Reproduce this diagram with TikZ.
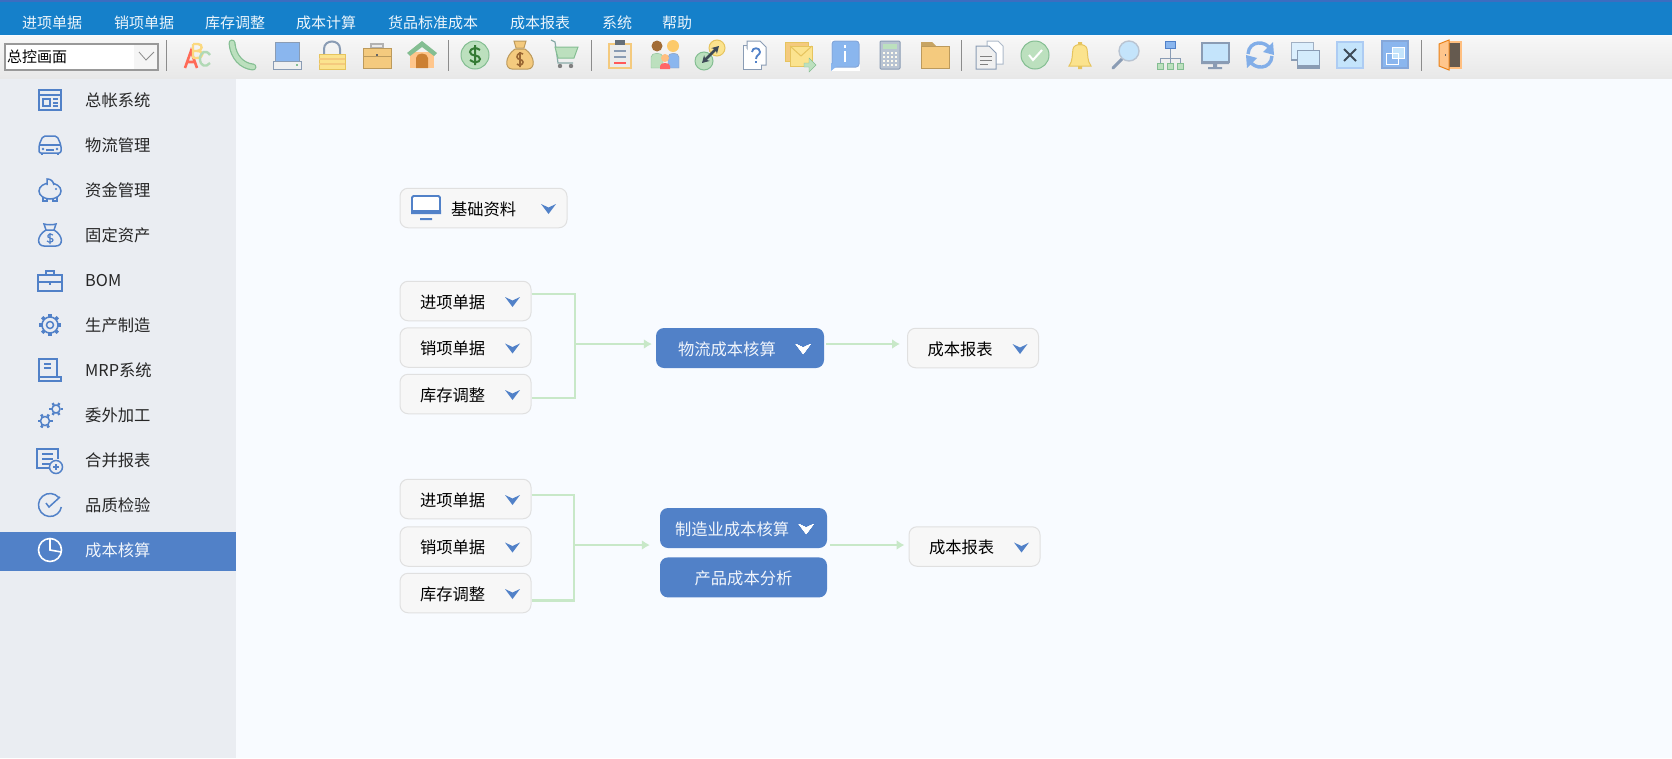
\documentclass[tikz,border=0pt]{standalone}
\usepackage{fontspec}
\setmainfont{Noto Sans CJK SC}
\usepackage{tikz}
\usetikzlibrary{arrows.meta,positioning,calc}
\definecolor{appbg}{HTML}{F8FBFF}
\definecolor{sidebg}{HTML}{EAEDF2}
\definecolor{appblue}{HTML}{5181C8}
\definecolor{menublue}{HTML}{1580CA}
\definecolor{topblue}{HTML}{3C6DC0}
\definecolor{linkgreen}{HTML}{C8E8C8}
\definecolor{boxfill}{HTML}{F7F7F7}
\definecolor{boxline}{HTML}{E0E0E0}
\definecolor{paleblue}{HTML}{C4E4FB}
\definecolor{midblue}{HTML}{8AB6EE}
\definecolor{slate}{HTML}{8A9CB4}
\definecolor{pgreen}{HTML}{BCE0BE}
\definecolor{dgreen}{HTML}{84BE92}
\definecolor{pyellow}{HTML}{FBE38E}
\definecolor{dyellow}{HTML}{E6C45E}
\definecolor{porange}{HTML}{F4CA7E}
\definecolor{dorange}{HTML}{BC9A5C}
\definecolor{darkbox}{HTML}{3E4A56}
\tikzstyle{greybox} = [rectangle, rounded corners=8pt, draw=boxline, fill=boxfill, line width=1pt, minimum height=39.5pt, align=left, inner xsep=20pt, text width=91pt, text height=17pt, text depth=2.6pt, text=black, font=\fontsize{16.3}{20}\selectfont]
\tikzstyle{bluebox} = [rectangle, rounded corners=8pt, fill=appblue, minimum height=40pt, minimum width=167pt, align=left, inner xsep=0pt, text height=17pt, text depth=2.6pt, text=white!92!appblue, font=\fontsize{16.3}{20}\selectfont]
\tikzstyle{link} = [linkgreen, line width=2.4pt]
\tikzstyle{arrow} = [linkgreen, line width=2.4pt, -{Latex[length=8pt,width=10pt]}]
\tikzstyle{menutxt} = [anchor=west, inner sep=0pt, text=white!92!menublue, font=\fontsize{15}{18}\selectfont]
\tikzstyle{sidetxt} = [anchor=west, inner sep=0pt, text=black!85, font=\fontsize{16.3}{20}\selectfont]
\tikzstyle{sideico} = [appblue, line width=1.5pt]
\tikzstyle{sepbar} = [black!45, line width=1pt]
\tikzset{ico/.style={shift={(#1,55)}}, sico/.style={shift={(50,#1)}}}
\newcommand{\chev}[2]{\fill[#2,shift={(#1)}] (-7.5,-5) -- (0,-1.5) -- (7.5,-5) -- (0,5) -- cycle;}
\begin{document}
\begin{tikzpicture}[x=1pt,y=-1pt,node distance=6pt]
\useasboundingbox (0,0) rectangle (1672,758);
% Window
\fill[appbg] (0,0) rectangle (1672,758);
\fill[sidebg] (0,78) rectangle (236,758);
\fill[menublue] (0,0) rectangle (1672,35);
\fill[topblue] (0,0) rectangle (1672,2);
\shade[top color=black!3, bottom color=black!9] (0,36) rectangle (1672,78);
\fill[appblue] (0,532) rectangle (236,571);
% Menu
\foreach \x/\n/\lbl in {22/1/进项单据,114/2/销项单据,205/3/库存调整,296/4/成本计算,388/5/货品标准成本,510/6/成本报表,602/7/系统,662/8/帮助}
  \node[menutxt] (m\n) at (\x,23) {\lbl};
% Combo
\draw[black!40, fill=white, line width=1.8pt] (5,44) rectangle (158,70);
\fill[black!4] (134,45) rectangle (157,69);
\draw[black!45, line width=0.8pt] (139,52) -- (146,60) -- (154,52);
\node[anchor=west, inner sep=0pt, text=black, font=\fontsize{15}{18}\selectfont] (combo) at (7,57) {总控画面};
\foreach \x in {166,448,591,961,1421}
  \draw[sepbar] (\x,40) -- (\x,71);
% Toolbar icons
\begin{scope}[ico=197]
\draw[line width=2.6pt, red!60!white!85!orange] (-12,13) -- (-6,-4) -- (0,13) (-9,7) -- (-3,7);
\draw[line width=2.4pt, pyellow!90!orange] (-4,-11) -- (-4,3) (-4,-11) -- (1,-11) .. controls (6,-11) and (6,-4) .. (0,-4) -- (-4,-4) (0,-4) .. controls (7,-4) and (7,3) .. (0,3) -- (-4,3);
\draw[line width=2.4pt, pgreen!80!dgreen] (13,0) .. controls (9,-6) and (3,-3) .. (3,4) .. controls (3,11) and (9,13) .. (13,8);
\end{scope}
\begin{scope}[ico=242]
\draw[line width=7pt, dgreen, line cap=round] (-10,-12) .. controls (-9,2) and (0,11) .. (11,12);
\draw[line width=4.5pt, pgreen, line cap=round] (-10,-12) .. controls (-9,2) and (0,11) .. (11,12);
\end{scope}
\begin{scope}[ico=287]
\draw[fill=midblue, draw=slate] (-12,-13) rectangle (12,6);
\draw[fill=black!6, draw=slate] (-14,6) rectangle (14,14);
\fill[dgreen] (9,9) rectangle (11,11);
\end{scope}
\begin{scope}[ico=332]
\draw[slate, line width=2pt] (-8,0) -- (-8,-6) .. controls (-8,-16) and (8,-16) .. (8,-6) -- (8,0);
\draw[fill=pyellow, draw=dyellow, line width=1pt] (-13,-1) rectangle (13,14);
\draw[porange, line width=1.5pt] (-13,4) -- (13,4) (-13,9) -- (13,9);
\end{scope}
\begin{scope}[ico=377]
\draw[black!30, fill=black!8, line width=1.5pt] (-6,-7) rectangle (6,-11);
\draw[fill=porange, draw=dorange, line width=1pt] (-14,-7) rectangle (14,13);
\draw[dorange] (-14,1) -- (14,1);
\fill[black!60] (-1,-1) rectangle (1,1);
\end{scope}
\begin{scope}[ico=422]
\fill[orange!45!white] (-12,-3) rectangle (12,13);
\fill[dgreen] (-15,-2) -- (0,-14) -- (15,-2) -- (12,1) -- (0,-8) -- (-12,1) -- cycle;
\fill[brown!80!orange] (-6,13) -- (-6,3) .. controls (-6,-3) and (6,-3) .. (6,3) -- (6,13) -- cycle;
\end{scope}
\begin{scope}[ico=475]
\draw[fill=pgreen, draw=dgreen, line width=1pt] (0,0) circle (14);
\draw[green!35!black!80, line width=2pt] (5,-5) .. controls (2,-8) and (-5,-7) .. (-5,-3) .. controls (-5,2) and (5,-1) .. (5,4) .. controls (5,8) and (-2,8) .. (-5,5) (0,-10) -- (0,10);
\end{scope}
\begin{scope}[ico=520]
\draw[fill=porange, draw=dorange, line width=1pt] (-5,-6) .. controls (-16,2) and (-15,14) .. (-8,14) -- (8,14) .. controls (15,14) and (16,2) .. (5,-6) -- cycle;
\draw[fill=porange, draw=dorange, line width=1pt] (-6,-14) -- (6,-14) -- (4,-7) -- (-4,-7) -- cycle;
\draw[brown!80!black, line width=1.6pt] (3,-1) .. controls (0,-3) and (-3,-1) .. (-3,2) .. controls (-3,5) and (3,4) .. (3,7) .. controls (3,10) and (-1,11) .. (-3,9) (0,-3) -- (0,12);
\end{scope}
\begin{scope}[ico=565]
\draw[slate!60!dgreen, line width=1.2pt] (-14,-15) -- (-10,-13) -- (-7,8) -- (8,8);
\draw[fill=pgreen, draw=dgreen, line width=1pt] (-10,-8) -- (13,-8) -- (9,3) -- (-7,3) -- cycle;
\fill[black!50] (-5,11) circle (2.2) (6,11) circle (2.2);
\end{scope}
\begin{scope}[ico=620]
\draw[fill=black!8, draw=porange, line width=2.6pt] (-11,-11) rectangle (11,13);
\fill[darkbox!80] (-5,-15) rectangle (5,-10);
\draw[slate, line width=1.4pt] (-6,-4) -- (6,-4) (-6,2) -- (6,2);
\draw[red!65!white, line width=1.6pt] (-6,8) -- (6,8);
\end{scope}
\begin{scope}[ico=665]
\fill[brown!85!black] (-8,-9) circle (5.5);
\fill[pyellow!75!orange] (8,-9) circle (6);
\draw[fill=pgreen, draw=dgreen] (-14,13) -- (-14,2) .. controls (-14,-3) and (-2,-3) .. (-2,2) -- (-2,13) -- cycle;
\draw[fill=midblue, draw=slate] (3,13) -- (3,2) .. controls (3,-3) and (14,-3) .. (14,2) -- (14,13) -- cycle;
\fill[orange!50!white] (0,3) circle (4);
\fill[red!60!white] (-5,14) -- (-5,11) .. controls (-5,7) and (5,7) .. (5,11) -- (5,14) -- cycle;
\end{scope}
\begin{scope}[ico=710]
\draw[fill=pyellow, draw=dyellow, line width=1pt] (7,-7) circle (8);
\draw[fill=pgreen, draw=dgreen, line width=1pt] (-6,6) circle (9);
\draw[darkbox, line width=2.6pt, {Stealth[length=7pt,width=8pt]}-{Stealth[length=7pt,width=8pt]}] (-8,8) -- (9,-9);
\end{scope}
\begin{scope}[ico=755]
\draw[slate, fill=white, line width=1pt] (-8,-14) -- (5,-14) -- (11,-8) -- (11,10) -- (-8,10) -- cycle;
\draw[slate, fill=white, line width=1pt] (-12,-10) -- (-8,-10) (-12,-10) -- (-12,14) -- (6,14) -- (6,10);
\draw[appblue, line width=1.8pt] (-3,-3) .. controls (-3,-8) and (5,-8) .. (5,-3) .. controls (5,0) and (1,0) .. (1,4);
\fill[appblue] (0,6) rectangle (2,8);
\end{scope}
\begin{scope}[ico=800]
\draw[fill=porange, draw=dyellow, line width=1pt] (-15,-13) rectangle (8,6);
\draw[fill=pyellow, draw=dyellow, line width=1pt] (-10,-9) rectangle (12,11);
\draw[dyellow, line width=1pt] (-10,-9) -- (1,1) -- (12,-9);
\draw[dgreen, fill=pgreen] (4,8) -- (9,8) -- (9,3) -- (16,10) -- (9,17) -- (9,12) -- (4,12) -- cycle;
\end{scope}
\begin{scope}[ico=845]
\fill[white] (-14,-15) rectangle (15,16);
\draw[fill=midblue, draw=appblue!70!white, line width=1pt, rounded corners=3pt] (-13,-14) rectangle (14,12);
\fill[midblue] (-14,16) -- (-14,8) -- (-8,11) -- cycle;
\draw[white, line width=2.4pt] (0,-4) -- (0,7);
\fill[white] (-1.3,-10) rectangle (1.3,-7);
\end{scope}
\begin{scope}[ico=890]
\draw[fill=slate!60, draw=slate, line width=1pt, rounded corners=1pt] (-10,-14) rectangle (10,14);
\fill[pgreen] (-7,-11) rectangle (7,-6);
\foreach \a in {-6,-2,2,6} \foreach \b in {-2,2,6,10}
  \fill[white!85!pyellow] (\a-1,\b-1) rectangle (\a+1,\b+1);
\end{scope}
\begin{scope}[ico=935]
\fill[dorange!80!porange] (-14,-13) -- (-3,-13) -- (1,-9) -- (-14,-9) -- cycle;
\draw[fill=porange, draw=dorange, line width=1pt] (-14,-9) rectangle (14,13);
\end{scope}
\begin{scope}[ico=990]
\draw[slate!70, fill=white, line width=1pt] (-3,-14) -- (8,-14) -- (13,-9) -- (13,9) -- (-3,9) -- cycle;
\draw[slate, fill=black!6, line width=1pt] (-14,-9) -- (-1,-9) -- (6,-2) -- (6,14) -- (-14,14) -- cycle;
\draw[black!50] (-10,1) -- (2,1) (-10,5) -- (2,5) (-10,9) -- (-2,9);
\end{scope}
\begin{scope}[ico=1035]
\draw[fill=pgreen, draw=dgreen, line width=1pt] (0,0) circle (14);
\draw[white, line width=2pt] (-6,0) -- (-2,5) -- (7,-5);
\end{scope}
\begin{scope}[ico=1080]
\draw[fill=pyellow, draw=dyellow, line width=1pt] (-11,11) .. controls (-7,6) and (-8,-1) .. (-7,-6) .. controls (-6,-12) and (6,-12) .. (7,-6) .. controls (8,-1) and (7,6) .. (11,11) -- cycle;
\fill[dyellow] (-2,-13) rectangle (2,-10) (-2,11) rectangle (2,14);
\end{scope}
\begin{scope}[ico=1125]
\draw[slate, line width=3pt, line cap=round] (-3,4) -- (-12,13);
\draw[fill=paleblue, draw=slate!60, line width=1.4pt] (4,-4) circle (10);
\end{scope}
\begin{scope}[ico=1170]
\draw[slate, line width=1pt] (0,-7) -- (0,9) (-10,9) -- (-10,3) -- (10,3) -- (10,9);
\draw[fill=midblue, draw=appblue] (-5,-14) rectangle (5,-7);
\foreach \a in {-10,0,10}
  \draw[fill=pgreen, draw=dgreen, line width=1pt] (\a-3,8) rectangle (\a+3,14);
\end{scope}
\begin{scope}[ico=1215]
\draw[fill=paleblue, draw=slate, line width=1.2pt] (-13,-12) rectangle (14,7);
\fill[slate] (-14,6) rectangle (14,9) (-2,9) rectangle (2,12) (-7,12) rectangle (7,14);
\end{scope}
\begin{scope}[ico=1260]
\draw[midblue!85!appblue, line width=3.4pt] (-12,-1) .. controls (-11,-15) and (6,-15) .. (11,-5);
\draw[midblue!85!appblue, line width=3.4pt] (12,1) .. controls (11,15) and (-6,15) .. (-11,5);
\fill[midblue!85!appblue] (13,-13) -- (14,0) -- (3,-3) -- cycle (-13,13) -- (-14,0) -- (-3,3) -- cycle;
\end{scope}
\begin{scope}[ico=1305]
\draw[fill=paleblue!60!white, draw=slate!80, line width=1pt] (-14,-13) rectangle (8,4);
\fill[slate] (-14,4) rectangle (-8,6);
\draw[fill=paleblue!75!white, draw=slate, line width=1pt] (-8,-5) rectangle (14,13);
\fill[slate] (-8,10) rectangle (14,14);
\end{scope}
\begin{scope}[ico=1350]
\draw[fill=paleblue, draw=midblue!70!white, line width=1.2pt] (-13,-13) rectangle (13,13);
\draw[darkbox, line width=2pt] (-6,-6) -- (6,6) (-6,6) -- (6,-6);
\end{scope}
\begin{scope}[ico=1395]
\draw[fill=midblue, draw=appblue!70!white, line width=1.2pt] (-13,-14) rectangle (13,13);
\draw[white, fill=paleblue, line width=1pt] (-3,-8) rectangle (9,3);
\draw[white, line width=1pt] (-9,-2) rectangle (3,9);
\end{scope}
\begin{scope}[ico=1450]
\draw[fill=darkbox!70!brown, draw=orange!50!white, line width=1.6pt] (-3,-13) rectangle (11,13);
\draw[fill=orange!45!white, draw=orange!65!brown, line width=1pt] (-11,-11) -- (-1,-15) -- (-1,15) -- (-11,11) -- cycle;
\fill[black!60] (-5,-1) rectangle (-4,1);
\end{scope}
% Side menu
\foreach \y/\n/\lbl in {100/1/总帐系统,145/2/物流管理,190/3/资金管理,235/4/固定资产,281/5/BOM,325/6/生产制造,370/7/MRP系统,415/8/委外加工,460/9/合并报表,505/10/品质检验}
  \node[sidetxt] (s\n) at (85,\y) {\lbl};
\node[sidetxt, text=white!92!appblue] (s11) at (85,550) {成本核算};
\begin{scope}[sico=100]
\draw[sideico] (-11,-10) rectangle (11,10) (-11,-5) -- (11,-5);
\draw[sideico] (-7,-1) rectangle (0,6) (3,-1) -- (8,-1) (3,3) -- (8,3) (3,6) -- (8,6);
\end{scope}
\begin{scope}[sico=145]
\draw[sideico, rounded corners=2pt] (-11,8) -- (-11,0) -- (-7,-9) -- (7,-9) -- (11,0) -- (11,8) -- cycle;
\draw[sideico] (-11,0) -- (11,0) (-4,5) -- (4,5) (-8,8) -- (-8,10) (8,8) -- (8,10);
\fill[appblue] (-7,4) circle (1.3) (7,4) circle (1.3);
\end{scope}
\begin{scope}[sico=190]
\draw[sideico] (0,1) ellipse (11 and 8);
\draw[sideico, fill=sidebg] (-3,-5) -- (-3,-11) .. controls (1,-11) and (3,-9) .. (4,-5);
\draw[sideico] (-7,7) -- (-7,11) -- (-3,11) -- (-3,9) (3,9) -- (3,11) -- (7,11) -- (7,7);
\fill[appblue] (6,-1) circle (1.2);
\end{scope}
\begin{scope}[sico=235]
\draw[sideico] (-4,-5) .. controls (-14,1) and (-13,11) .. (-6,11) -- (6,11) .. controls (13,11) and (14,1) .. (4,-5) -- cycle;
\draw[sideico] (-4,-5) -- (-6,-11) .. controls (-3,-10) and (3,-10) .. (6,-11) -- (4,-5);
\draw[appblue, line width=1.2pt] (3,0) .. controls (0,-2) and (-3,0) .. (-2,2) .. controls (-1,4) and (3,3) .. (3,5) .. controls (3,7) and (-1,8) .. (-3,6) (0,-2) -- (0,9);
\end{scope}
\begin{scope}[sico=281]
\draw[sideico] (-12,-6) rectangle (12,10) (-12,1) -- (12,1) (-4,-6) -- (-4,-10) -- (4,-10) -- (4,-6);
\fill[appblue] (-0.8,2) rectangle (0.8,4);
\end{scope}
\begin{scope}[sico=325]
\foreach \a in {0,45,...,315}
  \draw[appblue, line width=3.4pt, rotate=\a] (8,0) -- (11,0);
\draw[sideico, fill=sidebg] (0,0) circle (8);
\draw[sideico] (0,0) circle (3.5);
\end{scope}
\begin{scope}[sico=370]
\draw[sideico] (-11,7) -- (-11,-11) -- (7,-11) -- (7,7);
\draw[sideico] (-11,7) rectangle (11,11);
\draw[sideico] (-6,-6) -- (1,-6) (-6,-2) -- (1,-2);
\end{scope}
\begin{scope}[sico=415]
\foreach \a in {0,60,...,300} {
  \draw[appblue, line width=2.6pt, shift={(-5,6)}, rotate=\a] (5,0) -- (7.5,0);
  \draw[appblue, line width=2.4pt, shift={(6,-6)}, rotate=\a] (4.5,0) -- (6.8,0);
}
\draw[sideico] (-5,6) circle (4.5) (6,-6) circle (4);
\end{scope}
\begin{scope}[sico=460]
\draw[sideico] (4,8) -- (-13,8) -- (-13,-11) -- (8,-11) -- (8,-1);
\draw[sideico] (-8,-6) -- (3,-6) (-8,-1) -- (3,-1) (-8,4) -- (1,4);
\draw[sideico, fill=sidebg] (6,7) circle (6.5);
\draw[appblue, line width=1.5pt] (3,7) -- (9,7) (6,4) -- (6,10);
\end{scope}
\begin{scope}[sico=505]
\draw[sideico] (8.8,-7.4) arc[start angle=-40, end angle=-350, radius=11.5];
\draw[sideico] (-4,-2) -- (-1,2) -- (10,-8);
\end{scope}
\begin{scope}[sico=550]
\draw[white, line width=1.6pt] (0,0) circle (11.5);
\draw[white, line width=1.6pt] (0,-11.5) -- (0,0) -- (11.5,2);
\end{scope}
% Boxes
\node[greybox, inner xsep=51pt, text width=65pt] (base) at (483.5,208) {基础资料};
\draw[appblue, line width=1.8pt, rounded corners=1.5pt, fill=white] (412,196) rectangle (440,212);
\fill[appblue] (411,210) rectangle (441,214) (420,218) rectangle (432,220);
\node[greybox] (pur1) at (465.5,301) {进项单据};
\node[greybox, below=of pur1] (sal1) {销项单据};
\node[greybox, below=of sal1] (adj1) {库存调整};
\node[greybox] (pur2) at (465.5,499) {进项单据};
\node[greybox, below=7pt of pur2] (sal2) {销项单据};
\node[greybox, below=of sal2] (adj2) {库存调整};
\node[bluebox, text width=124pt, inner xsep=22pt, minimum width=0pt] (log) at (740,348) {物流成本核算};
\node[bluebox, text width=137pt, inner xsep=15pt, minimum width=0pt] (mfg) at (743.5,528) {制造业成本核算};
\node[bluebox, align=center, below=9pt of mfg] (ana) {产品成本分析};
\node[greybox] (rep1) at (973,348) {成本报表};
\node[greybox] (rep2) at (974.5,546.5) {成本报表};
% Chevrons
\foreach \n in {base,pur1,sal1,adj1,pur2,sal2,adj2,rep1,rep2}
  \chev{[xshift=-19pt,yshift=-1pt]\n.east}{appblue}
\foreach \n in {log,mfg}
  \chev{[xshift=-21pt,yshift=-1pt]\n.east}{white}
% Connectors
\coordinate (j1) at (575,344);
\coordinate (j2) at (574,545);
\draw[link] ([yshift=7pt]pur1.east) -| (j1) |- ([yshift=-4pt]adj1.east);
\draw[link] ([yshift=4pt]pur2.east) -| (j2) |- ([yshift=-7.5pt]adj2.east);
\draw[arrow, shorten >=4pt] (j1) -- (log.west |- j1);
\draw[arrow, shorten >=10pt] (j2) -- (mfg.west |- j2);
\draw[arrow, shorten <=2pt, shorten >=7pt] (log.east |- j1) -- (rep1.west |- j1);
\draw[arrow, shorten <=3pt, shorten >=4pt] (mfg.east |- j2) -- (rep2.west |- j2);
\end{tikzpicture}
\end{document}
